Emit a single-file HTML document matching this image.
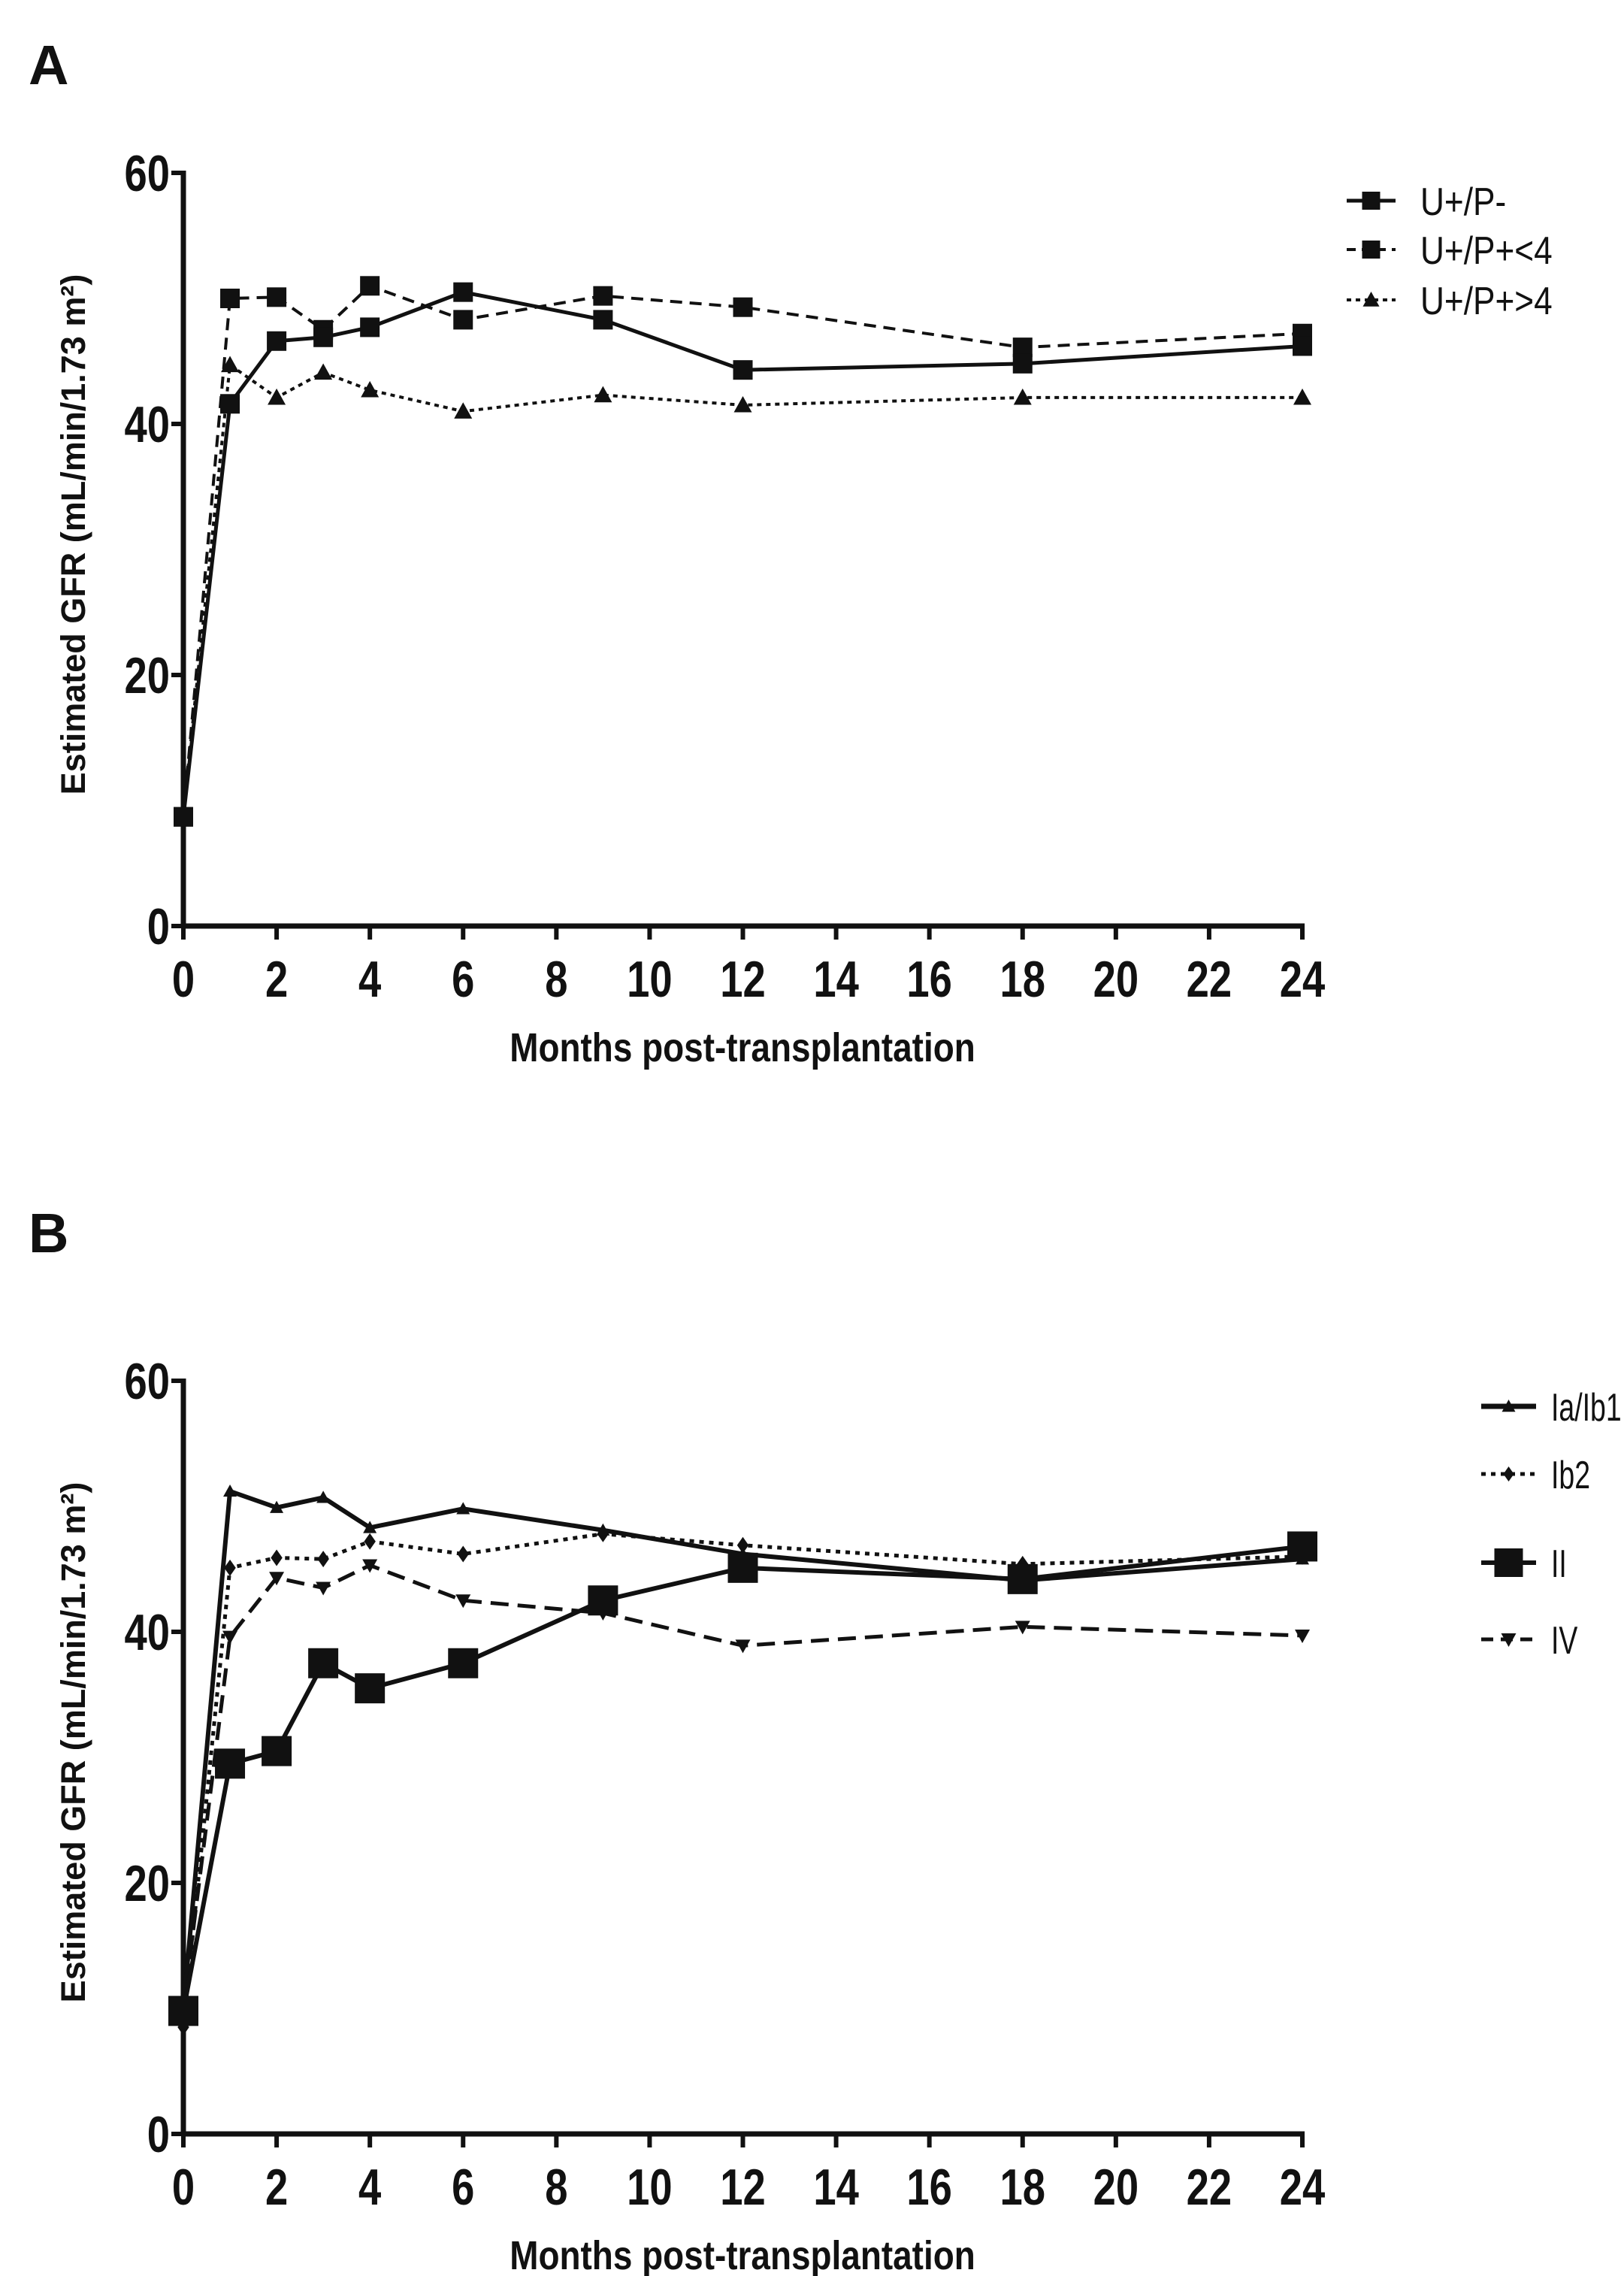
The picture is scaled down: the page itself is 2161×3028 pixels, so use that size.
<!DOCTYPE html>
<html><head><meta charset="utf-8">
<style>
html,body{margin:0;padding:0;background:#fff;}
svg{display:block;}
text{font-family:"Liberation Sans",Arial,sans-serif;fill:#111;}
</style></head>
<body>
<svg id="s" width="2161" height="3028" xmlns="http://www.w3.org/2000/svg"></svg>
<script>
const S=document.getElementById('s');let h='';
const X0=244,X24=1733,mx=(X24-X0)/24;
function panel(top0,top60,letter,ly,series,legend,lsc){
  const sy=(top0-top60)/60;
  const X=m=>X0+m*mx, Y=v=>top0-v*sy;
  h+=`<text x="38" y="${ly}" font-size="74" font-weight="bold">${letter}</text>`;
  h+=`<line x1="${X0}" y1="${top60-3}" x2="${X0}" y2="${top0+3}" stroke="#111" stroke-width="7"/>`;
  h+=`<line x1="${X0-3}" y1="${top0}" x2="${X24+3}" y2="${top0}" stroke="#111" stroke-width="7"/>`;
  for(let v=0;v<=60;v+=20){const y=Y(v);h+=`<line x1="${X0-16}" y1="${y}" x2="${X0}" y2="${y}" stroke="#111" stroke-width="6"/>`;
    h+=`<text x="${X0-18}" y="${y+24}" font-size="68" font-weight="bold" text-anchor="end" transform="translate(${X0-18} 0) scale(0.8 1) translate(${-(X0-18)} 0)">${v}</text>`;}
  for(let m=0;m<=24;m+=2){const x=X(m);h+=`<line x1="${x}" y1="${top0}" x2="${x}" y2="${top0+18}" stroke="#111" stroke-width="6"/>`;
    h+=`<text x="${x}" y="${top0+94}" font-size="68" font-weight="bold" text-anchor="middle" transform="translate(${x} 0) scale(0.8 1) translate(${-x} 0)">${m}</text>`;}
  h+=`<text x="988" y="${top0+180}" font-size="54" font-weight="bold" text-anchor="middle" transform="translate(988 0) scale(0.85 1) translate(-988 0)">Months post-transplantation</text>`;
  const cy=(top0+top60)/2-20;
  h+=`<text x="0" y="0" font-size="45" font-weight="bold" text-anchor="middle" transform="translate(113 ${cy}) rotate(-90)">Estimated GFR (mL/min/1.73 m²)</text>`;
  const ms=[0,1,2,3,4,6,9,12,18,24];
  series.forEach(s=>{
    const pts=s.v.map((v,i)=>X(ms[i])+','+Y(v)).join(' ');
    h+=`<polyline points="${pts}" fill="none" stroke="#111" stroke-width="${s.w}" ${s.d?`stroke-dasharray="${s.d}"`:''}/>`;
    s.v.forEach((v,i)=>h+=marker(s.m,X(ms[i]),Y(v),s.sz));
  });
  legend.forEach(l=>{
    h+=`<line x1="${l.x1}" y1="${l.y}" x2="${l.x2}" y2="${l.y}" stroke="#111" stroke-width="${l.w}" ${l.d?`stroke-dasharray="${l.d}"`:''}/>`;
    h+=marker(l.m,(l.x1+l.x2)/2,l.y,l.sz);
    h+=`<text x="${l.tx}" y="${l.y+19}" font-size="52" transform="translate(${l.tx} 0) scale(${lsc} 1) translate(${-l.tx} 0)">${l.t}</text>`;
  });
}
function marker(m,x,y,s){const r=s/2;
  if(m=='sq')return `<rect x="${x-r}" y="${y-r}" width="${s}" height="${s}" fill="#111"/>`;
  if(m=='tri')return `<polygon points="${x},${y-r} ${x+r},${y+r*0.8} ${x-r},${y+r*0.8}" fill="#111"/>`;
  if(m=='dtri')return `<polygon points="${x},${y+r} ${x+r},${y-r*0.8} ${x-r},${y-r*0.8}" fill="#111"/>`;
  if(m=='dia')return `<polygon points="${x},${y-r} ${x+r*0.7},${y} ${x},${y+r} ${x-r*0.7},${y}" fill="#111"/>`;
  return '';}
panel(1232,230,'A',112,[
 {v:[8.7,50,50.1,47.5,51,48.3,50.2,49.3,46.1,47.2],w:4,d:'16 10',m:'sq',sz:26},
 {v:[9,44.7,42.1,44.1,42.7,41,42.3,41.5,42.1,42.1],w:4,d:'6 6',m:'tri',sz:24},
 {v:[8.7,41.6,46.6,46.9,47.7,50.5,48.3,44.3,44.8,46.2],w:5,m:'sq',sz:26}
],[
 {x1:1792,x2:1857,y:267,w:5,m:'sq',sz:24,tx:1890,t:'U+/P-'},
 {x1:1792,x2:1857,y:332,w:4,d:'12 8',m:'sq',sz:24,tx:1890,t:'U+/P+&lt;4'},
 {x1:1792,x2:1857,y:399,w:4,d:'6 6',m:'tri',sz:22,tx:1890,t:'U+/P+&gt;4'}
],0.85);
panel(2839,1837,'B',1666,[
 {v:[8.5,45.1,45.9,45.8,47.2,46.2,47.8,46.9,45.4,46],w:5,d:'6 7',m:'dia',sz:22},
 {v:[10,39.6,44.3,43.5,45.3,42.5,41.5,38.9,40.4,39.7],w:5,d:'24 12',m:'dtri',sz:20},
 {v:[10,51.2,49.9,50.7,48.3,49.8,48.1,46.2,44.1,45.8],w:6,m:'tri',sz:18},
 {v:[9.8,29.5,30.5,37.5,35.5,37.5,42.5,45.1,44.2,46.8],w:6,m:'sq',sz:40}
],[
 {x1:1971,x2:2044,y:1871,w:7,m:'tri',sz:18,tx:2064,t:'Ia/Ib1'},
 {x1:1971,x2:2044,y:1961,w:5,d:'6 7',m:'dia',sz:20,tx:2064,t:'Ib2'},
 {x1:1971,x2:2044,y:2079,w:6,m:'sq',sz:38,tx:2064,t:'II'},
 {x1:1971,x2:2044,y:2181,w:5,d:'16 10',m:'dtri',sz:20,tx:2064,t:'IV'}
],0.72);
S.innerHTML=h;
</script>
</body></html>
